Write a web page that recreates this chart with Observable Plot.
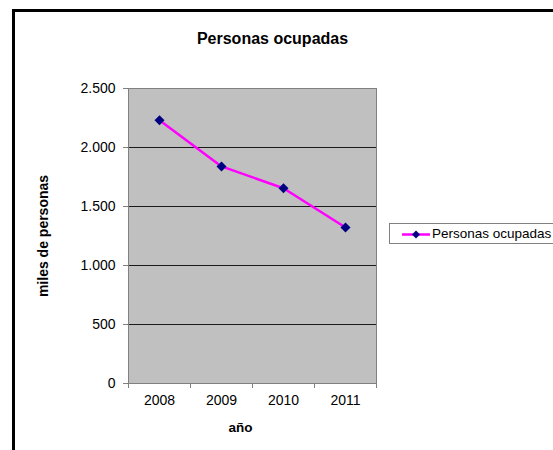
<!DOCTYPE html>
<html>
<head>
<meta charset="utf-8">
<script src="https://cdn.jsdelivr.net/npm/d3@7"></script>
<script src="https://cdn.jsdelivr.net/npm/@observablehq/plot@0.6"></script>
<style>
  html, body { margin: 0; padding: 0; background: #fff; overflow: hidden; }
  #wrap { position: relative; width: 553px; height: 450px; overflow: hidden; font-family: "Liberation Sans", Arial, sans-serif; }
  #border { position: absolute; left: 12px; top: 9px; width: 700px; height: 600px; border-top: 3px solid #000; border-left: 3px solid #000; box-sizing: border-box; }
  #chart { position: absolute; left: 0; top: 0; }
  #legend { position: absolute; left: 389px; top: 223px; width: 220px; height: 21px; border: 1px solid #808080; background: #fff; box-sizing: border-box; white-space: nowrap; }
  #legend svg { position: absolute; left: 12px; top: 0; }
  #legend span { position: absolute; left: 42px; top: 2px; font-size: 13.5px; color: #000; line-height: 16px; }
</style>
</head>
<body>
<div id="wrap">
  <div id="border"></div>
  <div id="chart"></div>
  <div id="legend">
    <svg width="30" height="21"><line x1="0" y1="10.5" x2="28" y2="10.5" stroke="#FF00FF" stroke-width="2.5"/><path d="M14,6.5L18,10.5L14,14.5L10,10.5Z" fill="#000080"/></svg>
    <span>Personas ocupadas</span>
  </div>
</div>
<script>
const title = "Personas ocupadas";
const seriesName = "Personas ocupadas";
const yLabel = "miles de personas";
const xLabel = "año";
const years = [2008, 2009, 2010, 2011];
const values = [2230, 1840, 1655, 1322];
const yTicks = [0, 500, 1000, 1500, 2000, 2500];
const gridTicks = [500, 1000, 1500, 2000];

const data = years.map((y, i) => ({year: y, value: values[i]}));
const bounds = [years[0] - 0.5, ...years.map(y => y + 0.5)];
const fmt = d => d3.format(",")(d).replace(/,/g, ".");

const chart = Plot.plot({
  width: 553,
  height: 450,
  marginLeft: 128,
  marginRight: 177,
  marginTop: 88,
  marginBottom: 67,
  style: {fontFamily: "'Liberation Sans', Arial, sans-serif", background: "transparent", color: "#000"},
  x: {type: "linear", domain: [years[0] - 0.5, years[years.length - 1] + 0.5]},
  y: {domain: [0, 2500]},
  marks: [
    Plot.frame({fill: "#C0C0C0"}),
    Plot.ruleY(gridTicks, {stroke: "#1a1a1a", strokeWidth: 1}),
    Plot.frame({stroke: "#808080", strokeWidth: 1}),
    Plot.axisY(yTicks, {tickSize: 5, tickPadding: 8, tickFormat: fmt, fontSize: 14, stroke: "#808080", fill: "#000", label: null}),
    Plot.axisX(bounds, {tickSize: 5, tickFormat: () => "", stroke: "#808080", label: null}),
    Plot.axisX(years, {tickSize: 0, tickPadding: 12, tickFormat: d => String(d), fontSize: 14, fill: "#000", label: null}),
    Plot.lineY(data, {x: "year", y: "value", stroke: "#FF00FF", strokeWidth: 2.5}),
    Plot.dot(data, {x: "year", y: "value", symbol: "diamond2", r: 4.5, fill: "#000080", stroke: "none"}),
    Plot.text([title], {frameAnchor: "top", lineAnchor: "bottom", dx: 20, dy: -45, fontSize: 16, fontWeight: "bold", fill: "#000"}),
    Plot.text([yLabel], {frameAnchor: "left", textAnchor: "middle", lineAnchor: "middle", rotate: -90, dx: -85, fontSize: 14, fontWeight: "bold", fill: "#000"}),
    Plot.text([xLabel], {frameAnchor: "bottom", lineAnchor: "bottom", dx: -12, dy: 48, fontSize: 13.5, fontWeight: "bold", fill: "#000"})
  ]
});
document.getElementById("chart").appendChild(chart);
</script>
</body>
</html>
